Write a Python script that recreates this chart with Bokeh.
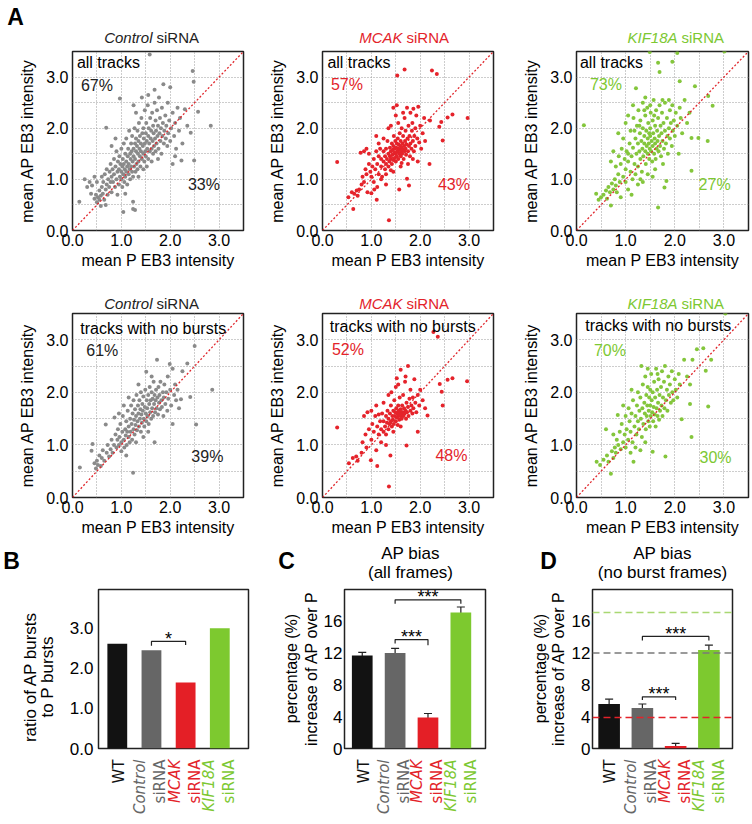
import math
from bokeh.plotting import figure
from bokeh.layouts import column, row
from bokeh.models import (Range1d, FixedTicker, PrintfTickFormatter, Label, Slope,
                          Span, Whisker, TeeHead, ColumnDataSource)
from bokeh.core.properties import value
from bokeh.embed import file_html
from bokeh.resources import INLINE

# ---------------- data ----------------
# (mean P EB3 intensity, mean AP EB3 intensity), approximate
ctrl_all = [
    (0.35,0.95),(0.40,0.88),(0.45,0.62),(0.48,0.70),(0.50,0.55),(0.52,0.65),(0.55,0.78),(0.55,0.60),(0.58,0.68),(0.60,0.85),
    (0.60,1.05),(0.62,0.72),(0.63,0.95),(0.65,0.60),(0.66,1.10),(0.68,0.80),(0.70,0.90),(0.70,1.20),(0.72,0.70),(0.73,1.00),
    (0.75,0.85),(0.76,1.15),(0.78,0.95),(0.78,1.30),(0.80,0.75),(0.80,1.05),(0.30,0.85),(0.25,1.00),(0.45,1.05),(0.50,0.95),
    (0.14,0.56),(0.38,0.72),(0.68,0.50),(0.58,0.48),
    (0.82,1.20),(0.83,0.95),(0.85,1.40),(0.85,1.10),(0.87,0.85),(0.88,1.25),(0.90,1.00),(0.90,1.55),(0.92,1.15),(0.93,1.35),
    (0.95,0.90),(0.95,1.20),(0.96,1.45),(0.97,1.05),(0.98,1.30),(1.00,1.00),(1.00,1.60),(1.00,1.15),(1.02,1.25),(1.02,0.85),
    (1.03,1.40),(1.04,1.10),(1.05,1.70),(1.05,1.30),(1.06,0.95),(1.07,1.20),(1.08,1.50),(1.08,1.05),(1.10,1.35),(1.10,1.15),
    (1.10,1.80),(1.12,1.25),(1.12,0.90),(1.13,1.45),(1.14,1.60),(1.15,1.10),(1.15,1.30),(1.16,1.95),(1.17,1.20),(1.18,1.50),
    (1.18,1.00),(1.19,1.40),(1.20,1.70),(1.20,1.25),(0.97,2.58),(0.69,2.01),(1.04,0.36),(0.80,1.65),(0.88,1.80),(0.92,0.70),
    (1.08,0.72),
    (1.21,1.55),(1.22,1.15),(1.22,1.85),(1.23,1.35),(1.24,1.05),(1.25,1.60),(1.25,1.45),(1.26,1.25),(1.27,2.00),(1.28,1.70),
    (1.28,1.40),(1.29,1.15),(1.30,1.55),(1.30,1.80),(1.31,1.30),(1.32,1.65),(1.33,1.95),(1.33,1.20),(1.34,1.50),(1.35,1.75),
    (1.35,1.35),(1.36,2.10),(1.37,1.60),(1.38,1.45),(1.38,1.85),(1.39,1.25),(1.40,1.70),(1.40,1.55),(1.41,2.20),(1.42,1.40),
    (1.43,1.90),(1.44,1.65),(1.45,1.50),(1.45,2.00),(1.46,1.80),(1.47,1.35),(1.48,1.70),(1.48,2.35),(1.49,1.55),(1.50,1.90),
    (1.50,1.45),(1.51,2.10),(1.52,1.75),(1.53,1.60),(1.54,2.45),(1.55,1.85),(1.55,1.40),(1.56,2.00),(1.57,1.70),(1.58,1.55),
    (1.59,2.20),(1.60,1.80),(1.24,0.42),(1.28,0.40),(1.24,0.56),(1.35,1.05),(1.45,1.20),(1.52,1.25),(1.30,2.30),(1.42,2.60),
    (1.58,3.44),(1.25,2.45),
    (1.61,1.95),(1.62,1.60),(1.63,2.30),(1.64,1.75),(1.65,1.50),(1.65,2.05),(1.66,1.90),(1.67,1.65),(1.68,2.50),(1.69,1.80),
    (1.70,2.15),(1.70,1.55),(1.71,1.95),(1.72,1.70),(1.73,2.35),(1.74,1.85),(1.75,2.05),(1.76,1.60),(1.77,2.60),(1.78,1.90),
    (1.79,2.20),(1.80,1.75),(1.81,2.00),(1.82,1.50),(1.83,2.40),(1.84,1.85),(1.85,2.10),(1.86,2.86),(1.87,1.70),(1.88,1.95),
    (1.90,2.25),(1.91,1.80),(1.92,2.05),(1.94,1.65),(1.95,2.50),(1.96,1.90),(1.98,2.15),(2.00,2.80),(2.00,1.75),(1.62,1.35),
    (1.75,1.40),(1.68,2.75),(1.55,2.65),
    (2.02,2.00),(2.05,2.30),(2.08,1.85),(2.10,2.10),(2.12,1.60),(2.15,2.40),(2.18,1.95),(2.20,2.20),(2.23,1.37),(2.25,1.70),
    (2.30,2.37),(2.35,2.05),(2.42,1.91),(2.46,3.12),(2.48,2.91),(2.49,1.37),(2.57,2.32),(2.83,2.05),(2.10,1.45),(2.05,1.30),
]

mcak_all = [
    (0.53,0.65),(0.63,0.42),(0.60,0.75),(0.65,0.72),(0.70,0.78),(0.72,0.68),(0.75,0.80),(0.80,0.90),(0.82,1.05),(0.85,0.95),
    (0.88,1.20),(0.90,1.10),(0.92,0.75),(0.95,1.30),(0.98,1.15),(1.00,0.73),(1.00,1.05),(1.02,1.25),(1.05,1.40),(1.05,0.95),
    (1.08,1.20),(1.10,1.55),(1.11,0.60),(1.12,1.30),(1.15,1.10),(1.15,1.45),(0.30,1.34),(0.85,1.55),(0.90,1.60),(0.95,1.50),
    (0.78,1.52),(1.18,1.60),(1.20,1.25),(1.20,1.40),(1.22,1.05),(1.25,1.35),(1.25,1.55),(1.28,1.20),(1.28,1.45),(1.30,1.60),
    (1.30,1.30),(1.32,1.40),(1.33,1.75),(1.35,1.50),(1.35,1.25),(1.36,0.20),(1.37,1.35),(1.38,1.45),(1.38,1.62),(1.40,1.40),
    (1.40,1.55),(1.40,2.05),(1.42,1.30),(1.42,1.70),(1.43,1.48),(1.44,1.58),(1.45,1.38),(1.45,1.65),(1.46,1.85),(1.47,1.52),
    (1.48,1.42),(1.48,1.60),(1.49,1.75),(1.50,1.50),(1.50,1.35),(1.50,2.25),(1.51,1.62),(1.52,1.45),(1.52,1.70),(1.53,1.55),
    (1.54,1.80),(1.55,1.60),(1.55,1.40),(1.56,1.68),(1.57,1.50),(1.57,0.80),(1.58,1.58),(1.58,1.90),(1.59,1.65),(1.60,1.45),
    (1.60,1.75),(1.61,1.55),(1.62,2.00),(1.62,1.62),(1.63,1.50),(1.64,1.70),(1.65,1.58),(1.65,1.85),(1.66,1.40),(1.67,1.65),
    (1.68,2.20),(1.68,1.55),(1.69,1.75),(1.70,1.60),(1.70,1.95),(1.71,1.48),(1.72,1.68),(1.73,1.01),(1.73,2.40),(1.74,1.80),
    (1.75,1.55),(1.76,2.05),(1.77,0.88),(1.77,1.65),(1.78,1.85),(1.79,1.45),(1.80,2.30),(1.80,1.70),(1.82,1.60),(1.83,1.95),
    (1.84,2.10),(1.85,1.75),(1.86,2.38),(1.87,1.55),(1.88,1.85),(1.90,2.00),(1.90,1.65),(1.92,2.25),(1.94,1.80),(1.95,1.35),
    (1.96,2.42),(1.98,1.72),(2.00,2.05),(2.02,1.60),(2.05,1.90),(2.08,2.20),(2.10,1.75),(2.19,1.30),(2.20,2.15),(2.24,3.13),
    (2.34,3.06),(2.39,2.03),(2.43,2.12),(2.46,1.76),(2.56,2.21),(2.66,2.27),(2.97,2.20),(1.53,3.03),(1.68,3.15),(1.45,2.40),
    (1.35,2.00),(1.25,1.80),(1.15,1.70),(1.10,1.85),(1.20,1.00),(1.30,1.10),(1.45,1.15),(1.60,1.25),(1.62,1.32),(1.75,1.30),
    (1.85,1.40),(1.52,2.45),(1.55,2.10),(1.65,2.30),(1.40,1.18),(1.30,0.90),(1.12,0.85),(1.06,0.80),
]

kif_all = [
    (0.40,0.72),(0.45,0.60),(0.50,0.65),(0.55,0.70),(0.60,0.78),(0.62,0.62),(0.65,0.85),(0.68,0.75),(0.70,0.49),(0.72,0.92),
    (0.75,0.80),(0.78,1.00),(0.80,0.88),(0.80,1.25),(0.82,0.75),(0.85,1.10),(0.86,1.45),(0.88,0.95),(0.90,1.30),(0.92,1.60),
    (0.95,1.05),(0.95,1.80),(0.98,1.40),(1.00,1.20),(1.00,0.95),(1.02,1.55),(1.05,1.35),(1.05,0.80),(1.08,1.70),(1.10,1.15),
    (1.10,1.95),(1.12,1.45),(1.14,1.00),(1.15,1.62),(1.16,2.20),(1.18,1.30),(1.20,1.80),(1.20,1.10),(1.22,1.50),(1.23,2.05),
    (1.25,1.70),(1.25,1.25),(1.26,2.35),(1.28,1.55),(1.29,1.90),(1.30,1.40),(1.30,2.15),(1.32,1.75),(1.33,1.15),(1.34,1.60),
    (1.35,2.00),(1.35,2.50),(1.36,1.45),(1.38,1.85),(1.38,1.70),(1.40,2.25),(1.40,1.55),(1.41,1.30),(1.42,1.95),(1.43,1.65),
    (1.44,2.40),(1.45,1.80),(1.45,1.50),(1.46,2.10),(1.47,1.70),(1.48,1.40),(1.49,1.60),(1.50,2.00),(1.50,1.85),(1.51,2.30),
    (1.52,1.55),(1.53,1.75),(1.54,1.35),(1.55,2.15),(1.55,1.65),(1.56,1.90),(1.57,2.55),(1.58,1.50),(1.59,1.80),(1.60,2.05),
    (1.60,1.70),(1.61,1.40),(1.62,2.35),(1.63,1.60),(1.64,1.95),(1.65,1.75),(1.66,2.20),(1.67,1.55),(1.68,1.85),(1.69,2.45),
    (1.70,1.65),(1.71,2.05),(1.72,1.45),(1.73,1.90),(1.74,2.30),(1.75,1.75),(1.76,1.30),(1.77,2.10),(1.78,1.60),(1.79,0.84),
    (1.80,1.95),(1.80,2.50),(1.82,1.70),(1.83,0.97),(1.84,2.20),(1.85,1.85),(1.86,1.50),(1.88,2.00),(1.90,2.35),(1.90,1.80),
    (1.92,2.10),(1.94,1.65),(1.95,2.45),(1.96,1.95),(1.98,2.15),(2.00,1.85),(2.02,2.30),(2.05,2.05),(2.08,1.50),(2.10,2.40),
    (2.12,2.20),(2.15,1.90),(2.20,2.55),(2.25,2.10),(2.30,2.30),(2.34,1.81),(2.34,1.17),(2.41,2.82),(2.48,1.81),(2.67,1.75),
    (2.68,2.63),(2.77,2.44),(0.15,2.06),(1.49,3.49),(2.05,3.47),(3.01,3.50),(1.66,3.28),(1.95,3.30),(1.69,3.10),(1.21,2.78),
    (2.10,2.92),(1.66,0.45),(0.85,1.90),(0.75,1.55),(0.70,1.35),(1.00,2.10),(1.05,2.25),(1.15,2.45),(1.30,1.00),(1.45,1.10),
    (1.55,1.05),(1.35,0.95),(1.60,1.20),(1.25,0.90),(1.12,0.70),(1.40,2.60),(1.50,2.45),(1.75,2.55),(1.88,2.55),(0.90,0.65),
    (1.05,1.50),(1.18,1.95),(1.28,2.05),(1.48,1.90),(1.58,2.25),(1.38,2.35),
]

ctrl_nb = [
    (0.15,0.57),(0.39,0.89),(0.41,1.02),(0.45,0.65),(0.48,0.55),(0.50,0.70),(0.52,0.62),(0.55,0.80),(0.58,0.60),(0.60,0.75),
    (0.62,0.90),(0.65,0.70),(0.68,1.39),(0.70,0.85),(0.72,1.00),(0.75,0.78),(0.78,0.92),(0.80,1.10),(0.82,0.85),(0.85,1.00),
    (0.86,1.52),(0.88,1.20),(0.90,0.95),(0.92,1.10),(0.93,1.30),(0.95,1.00),(0.96,1.15),(0.98,1.40),(1.00,1.05),(1.00,0.88),
    (1.02,1.25),(1.03,1.55),(1.05,1.10),(1.06,0.95),(1.08,1.30),(1.09,1.18),(1.10,1.45),(1.11,1.00),(1.12,1.25),(1.13,1.65),
    (1.15,1.15),(1.15,1.35),(1.17,1.05),(1.18,1.50),(1.19,1.25),(1.20,1.75),(1.21,1.40),(1.22,1.10),(1.23,1.60),(1.24,0.47),
    (1.25,1.30),(1.25,1.85),(1.26,1.48),(1.27,1.20),(1.28,1.68),(1.29,1.38),(1.30,1.55),(1.31,1.95),(1.32,1.28),(1.33,1.45),
    (1.34,1.75),(1.35,1.60),(1.36,1.35),(1.37,1.85),(1.38,1.50),(1.39,1.68),(1.40,1.25),(1.40,2.00),(1.41,1.58),(1.42,1.42),
    (1.43,1.78),(1.44,1.65),(1.45,1.92),(1.46,1.50),(1.47,1.35),(1.48,1.72),(1.49,2.05),(1.50,1.60),(1.51,2.39),(1.51,1.45),
    (1.52,1.85),(1.53,1.70),(1.54,1.55),(1.55,1.95),(1.56,1.40),(1.57,1.78),(1.58,2.10),(1.59,1.62),(1.60,1.85),(1.61,1.50),
    (1.62,2.00),(1.63,1.70),(1.64,1.88),(1.65,1.55),(1.66,2.20),(1.67,1.78),(1.68,1.05),(1.68,1.95),(1.69,1.62),(1.70,1.85),
    (1.71,2.05),(1.72,1.70),(1.73,2.62),(1.74,1.90),(1.75,1.58),(1.76,2.10),(1.77,1.80),(1.78,1.95),(1.79,1.68),(1.80,2.20),
    (1.82,1.85),(1.83,1.72),(1.85,2.00),(1.86,1.55),(1.87,1.90),(1.88,2.15),(1.90,1.78),(1.92,2.00),(1.94,1.65),(1.95,2.30),
    (1.96,1.88),(1.99,2.54),(2.00,2.05),(2.02,1.75),(2.05,2.45),(2.08,1.95),(2.10,2.15),(2.12,1.85),(2.15,2.05),(2.18,1.70),
    (2.22,1.87),(2.41,1.91),(2.50,2.88),(2.53,1.39),(2.86,2.05),(1.10,0.80),(1.30,1.05),(1.45,1.15),(1.55,1.25),(0.95,1.60),
    (1.05,1.75),(1.15,1.90),(1.35,2.15),(1.62,2.30),(2.05,1.40),(2.25,2.40),(2.35,2.55),
]

mcak_nb = [
    (0.30,1.33),(0.54,0.65),(0.62,0.75),(0.69,0.78),(0.72,0.70),(0.80,0.85),(0.82,1.05),(0.85,1.55),(0.88,1.20),(0.90,0.95),
    (0.92,1.62),(0.95,1.30),(0.99,0.71),(1.00,1.10),(1.02,1.40),(1.05,1.25),(1.08,1.55),(1.10,0.90),(1.12,0.60),(1.12,1.35),
    (1.15,1.58),(1.15,1.20),(1.18,1.45),(1.20,1.30),(1.22,1.60),(1.25,1.25),(1.25,1.45),(1.28,1.35),(1.30,1.55),(1.30,1.20),
    (1.32,1.42),(1.33,1.65),(1.35,1.50),(1.35,1.30),(1.36,0.21),(1.37,1.40),(1.38,1.60),(1.39,0.80),(1.40,1.45),(1.40,1.75),
    (1.41,2.00),(1.42,1.35),(1.43,1.55),(1.44,1.48),(1.45,1.65),(1.46,1.40),(1.47,1.85),(1.48,1.55),(1.49,1.62),(1.50,1.45),
    (1.50,2.10),(1.51,1.70),(1.52,2.27),(1.52,1.52),(1.53,1.60),(1.54,1.38),(1.55,1.75),(1.55,1.55),(1.56,1.65),(1.57,1.48),
    (1.58,1.62),(1.58,1.90),(1.59,1.55),(1.60,2.43),(1.60,1.68),(1.61,1.58),(1.62,1.50),(1.63,1.75),(1.64,1.62),(1.65,1.95),
    (1.66,1.55),(1.67,1.70),(1.68,1.60),(1.69,2.20),(1.70,1.65),(1.71,1.50),(1.72,0.99),(1.72,1.80),(1.73,1.62),(1.75,2.50),
    (1.75,1.72),(1.76,1.55),(1.78,1.88),(1.80,1.65),(1.80,2.05),(1.82,1.75),(1.84,1.60),(1.85,1.90),(1.86,1.70),(1.88,2.25),
    (1.90,1.80),(1.92,1.62),(1.95,1.25),(1.95,1.95),(1.98,1.75),(2.00,2.05),(2.05,1.85),(2.10,1.70),(2.15,1.56),(2.27,3.15),
    (2.36,3.06),(2.40,2.16),(2.44,2.01),(2.46,1.75),(2.56,2.24),(2.66,2.27),(2.96,2.21),(1.20,1.05),(1.30,1.00),(1.45,1.25),
    (1.60,1.35),(1.25,1.80),(1.35,1.95),(1.10,1.75),(1.00,1.65),(1.70,2.30),(1.55,2.15),
]

kif_nb = [
    (0.41,0.68),(0.48,0.62),(0.55,0.72),(0.60,1.30),(0.62,0.80),(0.65,0.68),(0.70,0.45),(0.72,0.88),(0.75,0.75),(0.78,0.95),
    (0.80,0.85),(0.82,1.10),(0.84,1.57),(0.85,1.00),(0.88,1.25),(0.90,0.92),(0.92,1.40),(0.95,1.05),(0.98,1.20),(1.00,0.95),
    (1.00,1.55),(1.02,1.30),(1.05,1.10),(1.06,1.70),(1.08,1.45),(1.10,0.85),(1.10,1.25),(1.12,1.60),(1.14,1.05),(1.15,1.85),
    (1.16,0.68),(1.18,1.35),(1.20,1.55),(1.22,1.20),(1.23,1.75),(1.25,2.00),(1.25,1.45),(1.27,1.30),(1.28,1.65),(1.30,1.90),
    (1.31,1.50),(1.32,2.50),(1.33,1.15),(1.34,1.70),(1.35,2.15),(1.36,1.40),(1.38,1.80),(1.39,1.60),(1.40,2.30),(1.41,1.30),
    (1.42,1.95),(1.43,1.55),(1.44,1.75),(1.45,2.10),(1.46,1.45),(1.47,1.65),(1.48,1.90),(1.49,1.35),(1.50,2.05),(1.50,1.75),
    (1.51,1.55),(1.52,2.35),(1.53,1.85),(1.54,1.62),(1.55,0.87),(1.55,2.00),(1.56,1.45),(1.57,1.72),(1.58,2.20),(1.59,1.58),
    (1.60,1.90),(1.61,1.35),(1.62,2.45),(1.63,1.70),(1.64,2.05),(1.65,1.55),(1.66,1.80),(1.67,2.25),(1.68,1.48),(1.69,1.95),
    (1.70,1.65),(1.72,2.10),(1.73,1.75),(1.74,2.40),(1.75,1.55),(1.76,1.90),(1.78,2.20),(1.79,1.70),(1.80,2.50),(1.81,0.78),
    (1.82,1.85),(1.84,2.05),(1.85,1.65),(1.87,2.30),(1.88,1.95),(1.90,2.15),(1.92,1.80),(1.94,2.40),(1.95,2.00),(1.97,1.85),
    (2.00,2.25),(2.02,2.05),(2.05,1.90),(2.08,2.35),(2.10,2.15),(2.14,1.49),(2.19,2.62),(2.25,2.30),(2.31,2.15),(2.31,1.78),
    (2.34,1.15),(2.36,2.62),(2.45,2.82),(2.58,2.84),(2.63,2.41),(2.68,1.73),(2.74,2.62),(3.03,3.50),(1.20,0.95),(1.40,1.05),
    (1.30,0.90),(0.95,1.75),(1.12,2.05),(1.45,2.45),(1.65,2.35),(0.75,1.20),
]

scatter_ticks = [0.0, 1.0, 2.0, 3.0]
grid_lines = [0.5, 1.0, 1.5, 2.0, 2.5, 3.0]

pct_above_all = [67, 57, 73]
pct_below_all = [33, 43, 27]
pct_above_nb = [61, 52, 70]
pct_below_nb = [39, 48, 30]

genes = ["Control", "MCAK", "KIF18A"]
conditions = ["WT", "Control", "MCAK", "KIF18A"]
burst_ratio = [2.60, 2.44, 1.64, 2.99]
bias_all = [11.7, 12.0, 3.9, 17.1]
bias_all_err = [0.4, 0.6, 0.5, 0.7]
bias_nb = [5.6, 5.1, 0.3, 12.4]
bias_nb_err = [0.6, 0.5, 0.35, 0.6]
ratio_ticks = [0.0, 1.0, 2.0, 3.0]
bias_ticks = [0, 4, 8, 12, 16]

# ---------------- style ----------------
FONT = "Liberation Sans"
CFONT = "DejaVu Sans"
PT_COLORS = ["#8a8a8a", "#e5232b", "#84c63c"]
TXT_COLORS = ["#222222", "#e3232a", "#7dc832"]
BAR_COLORS = ["#121212", "#666666", "#e41f26", "#7dc92f"]
LBL_COLORS = ["#111111", "#666666", "#e3232a", "#7dc832"]


def lab(p, x, y, text, size="16px", color="black", align="center", baseline="middle",
        style="normal", angle=0.0, xoff=0, font=FONT):
    p.add_layout(Label(x=x, y=y, text=text, text_font=font, text_font_size=size,
                       text_color=color, text_align=align, text_baseline=baseline,
                       text_font_style=style, angle=angle, x_offset=xoff))


def strip(W, H, xr=None, bl=0, br=0):
    p = figure(width=W, height=H, x_range=xr if xr is not None else Range1d(0, W),
               y_range=Range1d(0, H), x_axis_type=None, y_axis_type=None,
               output_backend="svg", toolbar_location=None, title=None,
               min_border_left=bl, min_border_right=br, min_border_top=0, min_border_bottom=0)
    p.outline_line_color = None
    p.background_fill_color = "white"
    p.border_fill_color = "white"
    return p


def base_fig(W, H, bl, br, bt, bb, xr, yr):
    p = figure(width=W, height=H, x_range=Range1d(*xr), y_range=Range1d(*yr),
               output_backend="svg", toolbar_location=None, title=None,
               min_border_left=bl, min_border_right=br, min_border_top=bt,
               min_border_bottom=bb)
    p.background_fill_color = "white"
    p.border_fill_color = "white"
    p.outline_line_color = "#222222"
    p.outline_line_width = 1.5
    for ax in (p.xaxis, p.yaxis):
        ax.axis_line_color = None
        ax.major_tick_in = 0
        ax.major_tick_out = 0
        ax.minor_tick_in = 0
        ax.minor_tick_out = 0
        ax.major_label_text_font = FONT
        ax.major_label_text_color = "black"
        ax.axis_label_text_font = FONT
        ax.axis_label_text_font_style = "normal"
        ax.axis_label_text_color = "black"
    return p


def scatter_panel(pts, k, corner, hi, lo, W, H, bl, br, bt, bb, corner_xy, hi_xy, lo_xy):
    p = base_fig(W, H, bl, br, bt, bb, (0, 3.5), (0, 3.5))
    for ax in (p.xaxis, p.yaxis):
        ax.ticker = FixedTicker(ticks=scatter_ticks)
        ax.formatter = PrintfTickFormatter(format="%.1f")
        ax.major_label_text_font_size = "16px"
        ax.axis_label_text_font_size = "16px"
    p.xaxis.axis_label = "mean P EB3 intensity"
    p.yaxis.axis_label = "mean AP EB3 intensity"
    p.xaxis.major_label_standoff = 3
    p.xaxis.axis_label_standoff = 3
    p.yaxis.major_label_standoff = 4
    p.yaxis.axis_label_standoff = 7
    p.xgrid.ticker = FixedTicker(ticks=grid_lines)
    p.ygrid.ticker = FixedTicker(ticks=grid_lines)
    p.grid.grid_line_color = "#9a9a9a"
    p.grid.grid_line_dash = "1 2"
    p.grid.grid_line_width = 1
    xs = [a for a, b in pts]
    ys = [b for a, b in pts]
    p.scatter(xs, ys, size=4, fill_color=PT_COLORS[k], line_color=None)
    p.add_layout(Slope(gradient=1, y_intercept=0, line_color="#e0262c",
                       line_dash="2 2", line_width=1.3))
    lab(p, corner_xy[0], corner_xy[1], corner, size="16px", align="left")
    lab(p, hi_xy[0], hi_xy[1], f"{hi}%", size="16px", color=TXT_COLORS[k])
    lab(p, lo_xy[0], lo_xy[1], f"{lo}%", size="16px", color=TXT_COLORS[k])
    return p


def title_strip(H, y, splits):
    s = strip(752, H)
    for k, xs in enumerate(splits):
        lab(s, xs, y, genes[k], size="15px", color=TXT_COLORS[k], align="right",
            style="italic", xoff=-2)
        lab(s, xs, y, "siRNA", size="15px", color=TXT_COLORS[k], align="left", xoff=2)
    return s


def bar_panel(vals, errs, W, H, bl, br, bt, bb, xr, yr, ticks, fmt, bar_w,
              brackets, star_dy, tick_standoff):
    p = base_fig(W, H, bl, br, bt, bb, xr, yr)
    p.xaxis.visible = False
    p.xgrid.visible = False
    p.ygrid.visible = False
    p.yaxis.ticker = FixedTicker(ticks=ticks)
    p.yaxis.formatter = PrintfTickFormatter(format=fmt)
    p.yaxis.major_label_text_font_size = "17px"
    p.yaxis.major_label_standoff = tick_standoff
    xs = list(range(len(vals)))
    p.vbar(x=xs, top=vals, width=bar_w, fill_color=BAR_COLORS, line_color=None)
    if errs is not None:
        src = ColumnDataSource(dict(x=xs, lo=[v - e for v, e in zip(vals, errs)],
                                    hi=[v + e for v, e in zip(vals, errs)]))
        p.add_layout(Whisker(base="x", lower="lo", upper="hi", source=src,
                             line_color="#222222", line_width=1.2,
                             upper_head=TeeHead(size=8, line_color="#222222", line_width=1.2),
                             lower_head=TeeHead(size=8, line_color="#222222", line_width=1.2)))
    bx, by = [], []
    for (i, j, top, di, dj, stars) in brackets:
        bx.append([i, i, j, j])
        by.append([di, top, top, dj])
        lab(p, (i + j) / 2, top + star_dy, stars, size="18px")
    if bx:
        p.multi_line(bx, by, line_color="#222222", line_width=1.2)
    return p


def ylabel_strip(W, H, lines, xs, y, size="17px"):
    s = strip(W, H)
    for t, x in zip(lines, xs):
        lab(s, x, y, t, size=size, angle=math.pi / 2)
    return s


def category_strip(W, H, xr, bl, br, top_y):
    s = strip(W, H, xr=xr, bl=bl, br=br)
    cx, ct, cc, cs, co = [], [], [], [], []
    for i, cond in enumerate(conditions):
        if cond == "WT":
            cx += [i]; ct += ["WT"]; cc += [LBL_COLORS[i]]; cs += ["normal"]; co += [3]
        else:
            cx += [i, i]; ct += [cond, "siRNA"]; cc += [LBL_COLORS[i]] * 2
            cs += ["italic", "normal"]; co += [-10, 10]
    src = ColumnDataSource(dict(x=cx, y=[top_y] * len(cx), t=ct, c=cc, s=cs, o=co))
    s.text(x="x", y="y", text="t", text_color="c", text_font_style="s", x_offset="o",
           source=src, angle=math.pi / 2, text_align="right", text_baseline="middle",
           text_font=value(CFONT), text_font_size="15px")
    return s


# ---------------- row 1: all tracks ----------------
t1 = title_strip(49, 12, [154, 404, 679])
lab(t1, 15, 33, "A", size="23px", style="bold")
f1 = scatter_panel(ctrl_all, 0, "all tracks", pct_above_all[0], pct_below_all[0],
                   258, 231, 72, 15, 2, 50, (0.09, 3.29), (0.50, 2.84), (2.69, 0.90))
f2 = scatter_panel(mcak_all, 1, "all tracks", pct_above_all[1], pct_below_all[1],
                   250, 231, 64, 15, 2, 50, (0.10, 3.28), (0.50, 2.85), (2.69, 0.90))
f3 = scatter_panel(kif_all, 2, "all tracks", pct_above_all[2], pct_below_all[2],
                   244, 231, 68, 4, 2, 50, (0.07, 3.29), (0.60, 2.86), (2.81, 0.90))

# ---------------- row 2: tracks with no bursts ----------------
t2 = title_strip(31, 8, [154, 404, 679])
f4 = scatter_panel(ctrl_nb, 0, "tracks with no bursts", pct_above_nb[0], pct_below_nb[0],
                   258, 232, 72, 15, 2, 46, (0.16, 3.22), (0.61, 2.79), (2.76, 0.78))
f5 = scatter_panel(mcak_nb, 1, "tracks with no bursts", pct_above_nb[1], pct_below_nb[1],
                   250, 232, 64, 15, 2, 46, (0.15, 3.26), (0.52, 2.81), (2.64, 0.79))
f6 = scatter_panel(kif_nb, 2, "tracks with no bursts", pct_above_nb[2], pct_below_nb[2],
                   244, 232, 68, 4, 2, 46, (0.18, 3.27), (0.68, 2.80), (2.83, 0.76))

# ---------------- row 3: bars ----------------
t3 = strip(752, 44)
lab(t3, 11, 27, "B", size="23px", style="bold")
lab(t3, 286, 27, "C", size="23px", style="bold")
lab(t3, 548, 27, "D", size="23px", style="bold")
lab(t3, 410, 34, "AP bias", size="17px")
lab(t3, 410, 15, "(all frames)", size="17px")
lab(t3, 662, 34, "AP bias", size="17px")
lab(t3, 662, 15, "(no burst frames)", size="17px")

yB = ylabel_strip(66, 171, ["ratio of AP bursts", "to P bursts"], [30, 47], 77)
pb = bar_panel(burst_ratio, None, 192, 171, 30, 10, 2, 10, (-0.55, 3.84), (0, 3.95),
               ratio_ticks, "%.1f", 0.58, [(1, 2, 2.66, 2.55, 2.57, "*")], 0.05, 5)
yC = ylabel_strip(62, 171, ["percentage (%)", "increase of AP over P"], [33, 53], 86, "16px")
pc = bar_panel(bias_all, bias_all_err, 188, 171, 22, 23, 2, 10, (-0.54, 3.75), (0, 20),
               bias_ticks, "%d", 0.63,
               [(1, 2, 13.7, 13.2, 13.0, "***"), (1, 3, 18.7, 18.2, 18.2, "***")], 0.35, 2)
yD = ylabel_strip(60, 171, ["percentage (%)", "increase of AP over P"], [32, 50], 86, "16px")
pd_ = bar_panel(bias_nb, bias_nb_err, 184, 171, 22, 20, 2, 10, (-0.5, 3.71), (0, 20),
                bias_ticks, "%d", 0.65,
                [(1, 2, 6.5, 6.1, 6.1, "***"), (1, 3, 14.1, 13.6, 13.6, "***")], 0.35, 2)
for loc, col in [(bias_all[3], "#a9d872"), (bias_all[1], "#7a7a7a"), (bias_all[2], "#e3232a")]:
    pd_.add_layout(Span(location=loc, dimension="width", line_color=col,
                        line_dash="7 4", line_width=1.5))

cB = category_strip(258, 66, pb.x_range, 96, 10, 65)
cC = category_strip(250, 66, pc.x_range, 84, 23, 65)
cD = category_strip(244, 66, pd_.x_range, 82, 20, 65)

layout = column(t1, row(f1, f2, f3), t2, row(f4, f5, f6), t3,
                row(yB, pb, yC, pc, yD, pd_), row(cB, cC, cD))

open("out.html", "w").write(file_html(layout, INLINE))
